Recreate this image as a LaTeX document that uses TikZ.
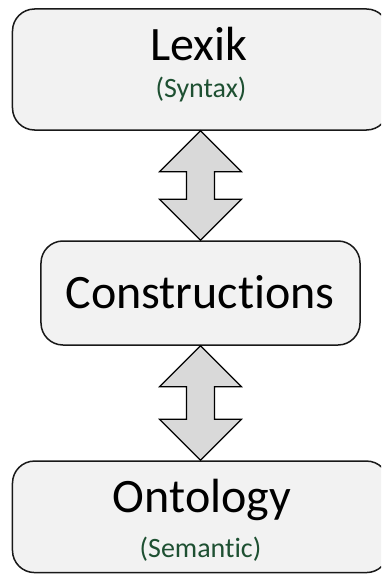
\documentclass[tikz,border=0pt]{standalone}
\usepackage{fontspec}
\setmainfont{Carlito}[Ligatures=NoCommon]
\usetikzlibrary{calc}

\definecolor{boxfill}{HTML}{F2F2F2}
\definecolor{arrowfill}{HTML}{D9D9D9}
\definecolor{subgreen}{RGB}{30,80,50}

\tikzset{
  layerbox/.style={draw=black!90, line width=1.5bp, fill=boxfill,
    rounded corners=22bp, inner sep=0pt},
  bigtext/.style={anchor=base, inner sep=0pt,
    font=\fontsize{48bp}{58bp}\selectfont},
  subtext/.style={anchor=base, inner sep=0pt, text=subgreen,
    font=\fontsize{28bp}{34bp}\selectfont},
  linkarrow/.style={draw=black, line width=1.2bp, fill=arrowfill,
    line join=miter}
}

% two-headed block arrow from the bottom of #1 to the top of #2
\newcommand\blockarrow[2]{%
  \draw[linkarrow] (#1.south)
    -- ($(#1.south)+(41,41)$) -- ($(#1.south)+(14,41)$)
    -- ($(#2.north)+(14,-41)$) -- ($(#2.north)+(41,-41)$)
    -- (#2.north)
    -- ($(#2.north)+(-41,-41)$) -- ($(#2.north)+(-14,-41)$)
    -- ($(#1.south)+(-14,41)$) -- ($(#1.south)+(-41,41)$)
    -- cycle;}

\begin{document}
\begin{tikzpicture}[x=1bp, y=-1bp]
  \useasboundingbox (0,0) rectangle (381,574);
  \clip (0,0) rectangle (381,574);

  % layer boxes (the outer two run past the right edge)
  \node[layerbox, minimum width=376bp, minimum height=121bp] (lexbox) at (200.5,69.5) {};
  \node[layerbox, minimum width=319bp, minimum height=104bp] (conbox) at (200.5,293) {};
  \node[layerbox, minimum width=376bp, minimum height=111.5bp] (ontbox) at (200.5,516.8) {};

  % labels
  \node[bigtext] (lex) at (199,61) {Lexik};
  \node[subtext] (syn) at (201,98) {(Syntax)};
  \node[bigtext] (con) at (200,308) {Constructions};
  \node[bigtext] (ont) at (202,512) {Ontology};
  \node[subtext] (sem) at (200.5,557) {(Semantic)};

  % links between the layers
  \blockarrow{lexbox}{conbox}
  \blockarrow{conbox}{ontbox}
\end{tikzpicture}
\end{document}
